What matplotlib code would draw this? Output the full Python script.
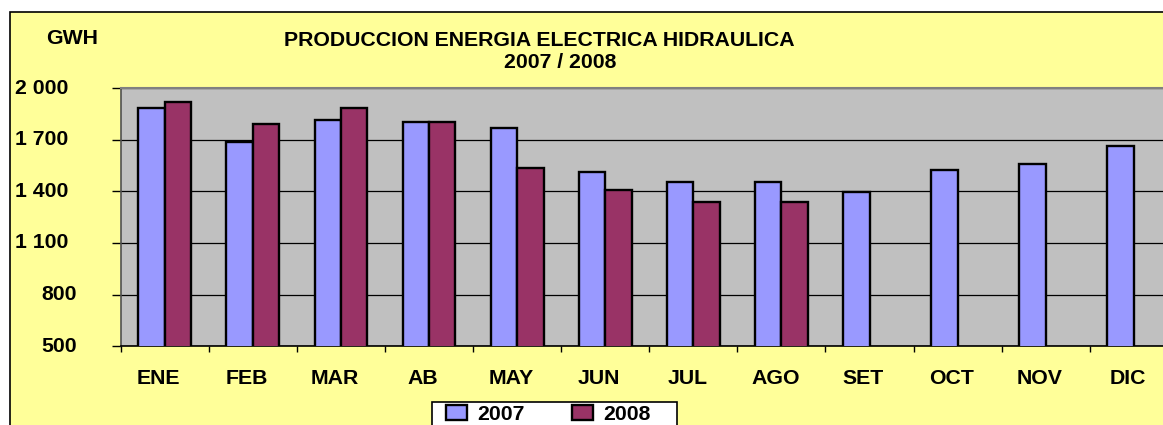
import numpy as np
import matplotlib
matplotlib.use("Agg")
import matplotlib.pyplot as plt
from matplotlib.patches import Rectangle

plt.rcParams['font.family'] = ['Liberation Sans', 'DejaVu Sans']
plt.rcParams['font.weight'] = 'bold'
plt.rcParams['font.size'] = 15.3

# data (GWH)
months = ['ENE', 'FEB', 'MAR', 'AB', 'MAY', 'JUN', 'JUL', 'AGO', 'SET', 'OCT', 'NOV', 'DIC']
prod_2007 = [1882, 1685, 1813, 1801, 1766, 1511, 1453, 1453, 1395, 1523, 1560, 1665]
prod_2008 = [1917, 1791, 1882, 1801, 1534, 1407, 1337, 1337]
y_ticks = [500, 800, 1100, 1400, 1700, 2000]
series_names = ['2007', '2008']

W, H = 1163, 425
fs = 15.3
fig = plt.figure(figsize=(W / 100, H / 100), dpi=100, facecolor='white')

# yellow chart area with black border (runs off the right/bottom edge)
fig.patches.append(Rectangle((9.5 / W, -0.1), 1.2, (H - 12) / H + 0.1, transform=fig.transFigure,
                             facecolor='#FFFF99', edgecolor='black', lw=1.2, zorder=-2))
# legend box (cut by the bottom edge)
fig.patches.append(Rectangle((431.7 / W, -0.1), (676.7 - 431.7) / W, (H - 402.3) / H + 0.1,
                             transform=fig.transFigure, facecolor='white', edgecolor='black',
                             lw=1.2, zorder=-1))

ax = fig.add_axes([120.7 / W, (H - 346.3) / H, 12 * 88.1 / W, 258.3 / H])
ax.set_facecolor('#C0C0C0')

x = np.arange(len(months))
w = 0.3
b1 = ax.bar(x - w / 2, prod_2007, w, color='#9999FF', edgecolor='black', lw=1.7, zorder=3)
b2 = ax.bar(x[:len(prod_2008)] + w / 2, prod_2008, w, color='#993366', edgecolor='black', lw=1.7, zorder=3)

ax.set_xlim(-0.5, len(months) - 0.5)
ax.set_ylim(y_ticks[0], y_ticks[-1])

ax.set_yticks(y_ticks)
ax.set_yticklabels([])
ax.tick_params(axis='y', direction='out', length=6.5, width=1, color='black')
for v in y_ticks:
    lab = f"{v:,}".replace(',', ' ')
    off = -52.4 if v >= 1000 else -43.4
    ax.annotate(lab, xy=(0, v), xycoords=('axes fraction', 'data'), xytext=(off, 0),
                textcoords='offset pixels', ha='right', va='center', fontsize=fs, fontweight='bold',
                annotation_clip=False)

ax.set_xticks(x - 0.07)
ax.set_xticklabels(months)
ax.set_xticks(np.arange(len(months) + 1) - 0.5, minor=True)
ax.tick_params(axis='x', which='major', length=0, pad=16)
ax.tick_params(axis='x', which='minor', direction='out', length=4.3, width=1, color='black')

ax.yaxis.grid(True, color='black', lw=0.9)
ax.set_axisbelow(True)

ax.spines['top'].set_color('#808080')
ax.spines['top'].set_linewidth(1.5)
ax.spines['right'].set_color('#808080')
ax.spines['left'].set_color('#505050')
ax.spines['left'].set_linewidth(1.2)
ax.spines['bottom'].set_color('black')
ax.spines['bottom'].set_linewidth(1.2)

fig.text(71.7 / W, 1 - 38 / H, 'GWH', ha='center', va='center', fontsize=fs, fontweight='bold')
fig.text(539.5 / W, 1 - 40 / H, 'PRODUCCION ENERGIA ELECTRICA HIDRAULICA', ha='center', va='center',
         fontsize=fs, fontweight='bold')
fig.text(560 / W, 1 - 62 / H, '2007 / 2008', ha='center', va='center', fontsize=fs, fontweight='bold')

fig.legend([b1, b2], series_names, loc='upper left', bbox_to_anchor=(445.7 / W, 1 - 405 / H),
           bbox_transform=fig.transFigure, ncol=2, frameon=False, borderpad=0, borderaxespad=0,
           handlelength=1.0, handleheight=0.7, handletextpad=0.5, columnspacing=2.2,
           prop=dict(weight='bold', size=fs))

fig.savefig('out.png', dpi=100)
